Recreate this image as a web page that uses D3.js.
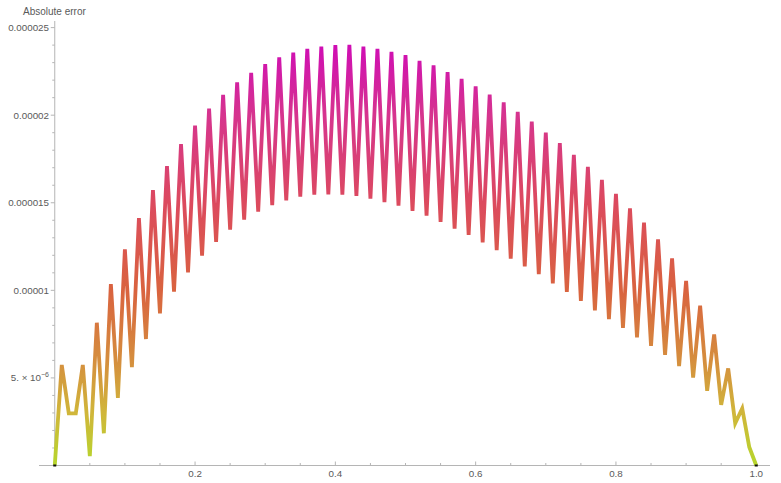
<!DOCTYPE html>
<html>
<head>
<meta charset="utf-8">
<script src="https://cdn.jsdelivr.net/npm/d3@7"></script>
<style>
  html, body { margin: 0; padding: 0; background: #fff; }
  svg { display: block; }
  text { font-family: "Liberation Sans", Arial, sans-serif; fill: #5a5a5a; }
</style>
</head>
<body>
<svg id="chart" width="781" height="483"></svg>
<script>
// ---- data (values in units of 1e-6) ----
const xValues = d3.range(0, 101).map(i => i / 100);
const errorMicro = [
  0, 5.74, 2.98, 2.98, 5.74, 0.54, 8.15, 1.84, 10.36, 3.86,
  12.34, 5.61, 14.12, 7.22, 15.72, 8.68, 17.09, 9.92, 18.35, 11.03,
  19.41, 11.98, 20.37, 12.77, 21.16, 13.46, 21.87, 14.03, 22.42, 14.49,
  22.91, 14.87, 23.30, 15.14, 23.58, 15.35, 23.79, 15.46, 23.92, 15.48,
  24.00, 15.46, 24.02, 15.39, 23.92, 15.23, 23.79, 15.04, 23.62, 14.83,
  23.43, 14.54, 23.10, 14.26, 22.84, 13.90, 22.46, 13.52, 22.07, 13.16,
  21.64, 12.74, 21.18, 12.29, 20.73, 11.81, 20.19, 11.37, 19.64, 10.92,
  19.01, 10.40, 18.40, 9.91, 17.74, 9.39, 17.05, 8.86, 16.31, 8.35,
  15.51, 7.85, 14.68, 7.32, 13.86, 6.83, 12.91, 6.31, 11.82, 5.68,
  10.54, 5.02, 9.12, 4.26, 7.48, 3.46, 5.54, 2.41, 3.26, 1.06,
  0
];
const yTickValues = [0.000005, 0.00001, 0.000015, 0.00002, 0.000025];
const yTickLabels = ["5. \u00d7 10", "0.00001", "0.000015", "0.00002", "0.000025"];
const xTickValues = [0.2, 0.4, 0.6, 0.8, 1.0];
const xTickLabels = ["0.2", "0.4", "0.6", "0.8", "1.0"];
const yMinorTicks = d3.range(1, 25).map(k => k * 1e-6).filter(v => Math.round(v * 1e6) % 5 !== 0);
const xMinorTicks = d3.range(1, 20).map(k => k * 0.05).filter(v => Math.round(v * 100) % 20 !== 0);
const yAxisTitle = "Absolute error";

const data = xValues.map((x, i) => ({ x: x, y: errorMicro[i] * 1e-6 }));

// ---- layout ----
const svg = d3.select("#chart");
const x = d3.scaleLinear().domain([0, 1]).range([54.75, 756.25]);
const y = d3.scaleLinear().domain([0, 0.000025]).range([465.5, 27.6]);
const axisColor = "#b5b5b5";

// colour by value
const colorStops = [
  [0, "#b6d62c"], [3, "#d0b63a"], [6, "#d58e3e"], [10, "#d9633f"],
  [15, "#dc4a5e"], [20, "#d6348e"], [24, "#cf0db4"]
];
const defs = svg.append("defs");
const grad = defs.append("linearGradient")
  .attr("id", "errGrad")
  .attr("gradientUnits", "userSpaceOnUse")
  .attr("x1", 0).attr("x2", 0)
  .attr("y1", y(0)).attr("y2", y(24e-6));
colorStops.forEach(s => {
  grad.append("stop").attr("offset", s[0] / 24).attr("stop-color", s[1]);
});

// axes lines
svg.append("line")
  .attr("x1", 39).attr("x2", 770)
  .attr("y1", y(0)).attr("y2", y(0))
  .attr("stroke", axisColor).attr("stroke-width", 1);
svg.append("line")
  .attr("x1", x(0)).attr("x2", x(0))
  .attr("y1", y(0)).attr("y2", 21)
  .attr("stroke", axisColor).attr("stroke-width", 1);

// y ticks
svg.selectAll(".ymaj").data(yTickValues).enter().append("line")
  .attr("x1", x(0) - 4).attr("x2", x(0))
  .attr("y1", d => y(d)).attr("y2", d => y(d))
  .attr("stroke", axisColor);
svg.selectAll(".ymin").data(yMinorTicks).enter().append("line")
  .attr("x1", x(0) - 2.5).attr("x2", x(0))
  .attr("y1", d => y(d)).attr("y2", d => y(d))
  .attr("stroke", axisColor);
// x ticks
svg.selectAll(".xmaj").data(xTickValues).enter().append("line")
  .attr("x1", d => x(d)).attr("x2", d => x(d))
  .attr("y1", y(0)).attr("y2", y(0) - 4)
  .attr("stroke", axisColor);
svg.selectAll(".xmin").data(xMinorTicks).enter().append("line")
  .attr("x1", d => x(d)).attr("x2", d => x(d))
  .attr("y1", y(0)).attr("y2", y(0) - 2.5)
  .attr("stroke", axisColor);

// y tick labels
yTickValues.forEach((v, i) => {
  const t = svg.append("text")
    .attr("x", 49).attr("y", y(v) + 3.4)
    .attr("text-anchor", "end")
    .style("font-size", "9.8px");
  if (i === 0) {
    t.append("tspan").text(yTickLabels[i]);
    t.append("tspan").attr("dy", -4).style("font-size", "7px").text("\u22126");
  } else {
    t.text(yTickLabels[i]);
  }
});
// x tick labels
svg.selectAll(".xlab").data(xTickValues).enter().append("text")
  .attr("x", d => x(d)).attr("y", y(0) + 11)
  .attr("text-anchor", "middle")
  .style("font-size", "9.8px")
  .text((d, i) => xTickLabels[i]);

// axis title
svg.append("text")
  .attr("x", 23).attr("y", 15)
  .style("font-size", "10px")
  .text(yAxisTitle);

// line
const line = d3.line().x(d => x(d.x)).y(d => y(d.y));
svg.append("path")
  .datum(data)
  .attr("d", line)
  .attr("fill", "none")
  .attr("stroke", "url(#errGrad)")
  .attr("stroke-width", 3.8)
  .attr("stroke-linejoin", "miter")
  .attr("stroke-miterlimit", 4);

// endpoint marks
svg.selectAll(".endmark").data([data[0], data[data.length - 1]]).enter().append("rect")
  .attr("x", d => x(d.x) - 1.5).attr("y", d => y(d.y) - 1)
  .attr("width", 3).attr("height", 2)
  .attr("fill", "#111");
</script>
</body>
</html>
